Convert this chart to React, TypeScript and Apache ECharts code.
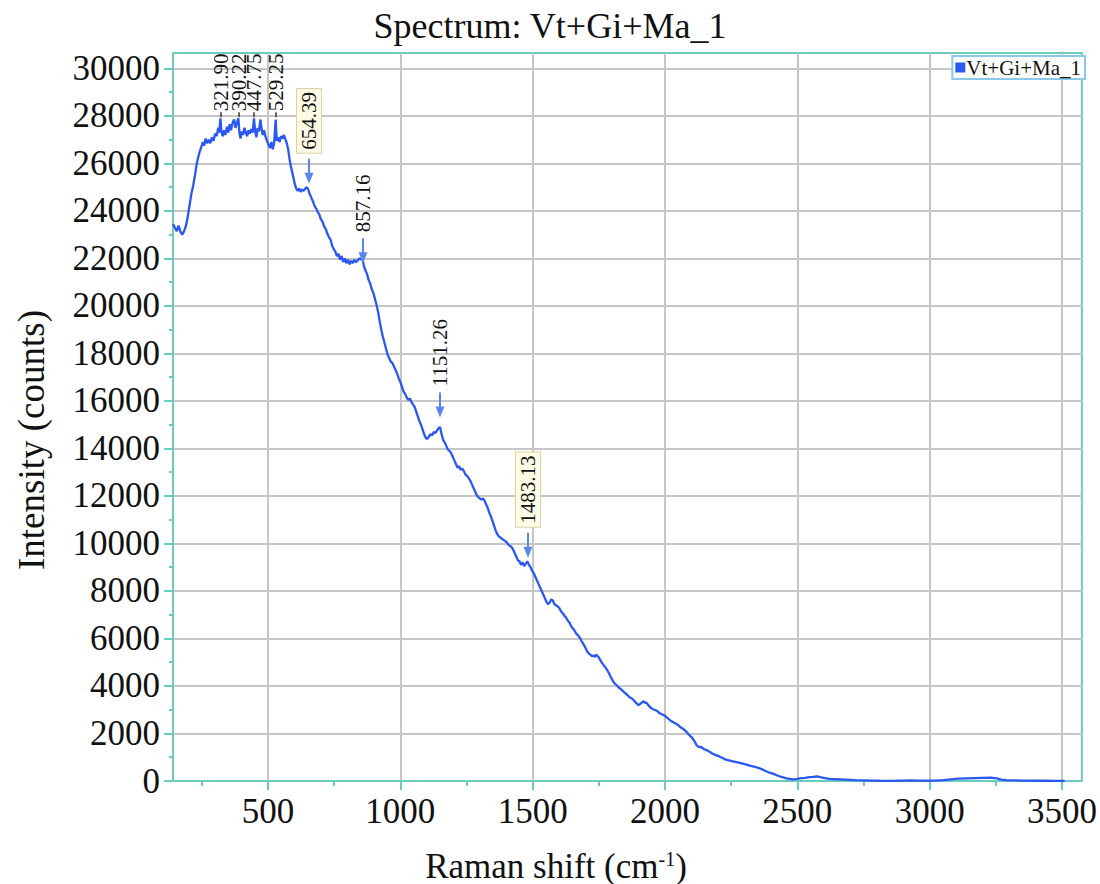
import React, { useEffect, useRef } from 'react';
import * as echarts from 'echarts';

const SERIF = '"Liberation Serif", "Times New Roman", serif';
const TEAL = '#6ccabf';
const BLUE = '#2a58f0';
const ARROW = '#5a86ee';
const GRIDC = '#c6c6c6';

const chartTitle = 'Spectrum: Vt+Gi+Ma_1';
const seriesName = 'Vt+Gi+Ma_1';

// [Raman shift (cm-1), intensity (counts)]
const spectrum: [number, number][] = [
  [141, 23450], [148, 23300], [155, 23150], [162, 23380], [170, 23100], [176, 23000], [183, 23150],
  [190, 23380], [196, 23700], [203, 24200], [210, 24700], [217, 25050], [224, 25500], [230, 25950],
  [236, 26250], [242, 26500], [248, 26700], [254, 26900], [259, 26750], [264, 27050], [270, 26850],
  [276, 27000], [282, 26850], [288, 27100], [294, 26950], [300, 27250], [306, 27150], [312, 27500],
  [316, 27300], [320, 27900], [324, 27350], [329, 27150], [334, 27400], [339, 27200], [345, 27550],
  [350, 27300], [355, 27650], [360, 27400], [366, 27700], [372, 27850], [377, 27500], [382, 27700],
  [388, 27900], [392, 27300], [396, 27050], [401, 27350], [406, 27200], [411, 27500], [416, 27300],
  [421, 27150], [426, 27400], [431, 27250], [437, 27450], [442, 27300], [447, 27900], [451, 27400],
  [456, 27100], [461, 27500], [466, 27350], [471, 27850], [475, 27500], [480, 27200], [485, 27400],
  [490, 27150], [496, 26950], [502, 26800], [508, 26650], [513, 26900], [518, 26600], [523, 26850],
  [529, 27850], [533, 26950], [538, 27100], [544, 26900], [549, 27150], [555, 27050], [560, 27200],
  [566, 27000], [571, 26850], [576, 26600], [581, 26200], [586, 25900], [591, 25650], [596, 25400],
  [601, 25150], [606, 24950], [612, 24850], [618, 24950], [623, 24800], [629, 24900], [635, 24850],
  [641, 24950], [647, 25000], [652, 24900], [658, 24700], [664, 24550], [670, 24400], [676, 24200],
  [682, 24100], [688, 23950], [694, 23850], [700, 23650], [706, 23550], [712, 23350], [718, 23250],
  [724, 23050], [730, 22900], [736, 22800], [742, 22550], [748, 22400], [754, 22300], [760, 22100],
  [766, 22200], [772, 21950], [778, 22100], [784, 21850], [790, 22000], [796, 21800], [802, 21950],
  [808, 21750], [814, 21900], [820, 21800], [826, 21950], [832, 21850], [838, 21900], [844, 22000],
  [850, 21950], [856, 22050], [862, 21700], [868, 21500], [874, 21350], [880, 21100], [886, 20950],
  [892, 20700], [898, 20550], [904, 20300], [910, 20050], [916, 19750], [922, 19350], [928, 19000],
  [934, 18700], [940, 18450], [946, 18200], [952, 17950], [958, 17800], [964, 17650], [970, 17600],
  [976, 17450], [982, 17300], [988, 17150], [994, 16950], [1000, 16800], [1006, 16600], [1012, 16400],
  [1018, 16300], [1024, 16150], [1030, 16050], [1036, 16100], [1042, 15950], [1048, 15850], [1054, 15750],
  [1060, 15550], [1066, 15350], [1072, 15150], [1078, 15000], [1084, 14800], [1090, 14600], [1096, 14450],
  [1102, 14400], [1108, 14500], [1114, 14600], [1120, 14550], [1126, 14700], [1132, 14650], [1138, 14750],
  [1144, 14850], [1150, 14900], [1156, 14600], [1162, 14350], [1168, 14250], [1174, 14100], [1180, 13950],
  [1186, 13900], [1192, 13800], [1198, 13650], [1204, 13500], [1210, 13350], [1216, 13200], [1222, 13250],
  [1228, 13100], [1234, 13150], [1240, 13050], [1246, 12900], [1252, 12850], [1258, 12750], [1264, 12650],
  [1270, 12500], [1276, 12350], [1282, 12200], [1288, 12050], [1294, 11950], [1300, 11900], [1306, 11850],
  [1312, 11900], [1318, 11800], [1324, 11650], [1330, 11500], [1336, 11300], [1342, 11150], [1348, 10950],
  [1354, 10750], [1360, 10550], [1366, 10400], [1372, 10300], [1378, 10250], [1384, 10200], [1390, 10150],
  [1396, 10100], [1402, 10050], [1408, 9950], [1414, 9900], [1420, 9850], [1426, 9750], [1432, 9600],
  [1438, 9450], [1444, 9300], [1450, 9250], [1456, 9100], [1462, 9200], [1468, 9050], [1474, 9150],
  [1480, 9250], [1486, 9100], [1492, 9000], [1498, 8850], [1504, 8750], [1510, 8600], [1516, 8450],
  [1522, 8300], [1528, 8150], [1534, 8000], [1540, 7850], [1546, 7700], [1552, 7550], [1558, 7450],
  [1564, 7500], [1570, 7650], [1576, 7600], [1582, 7450], [1588, 7400], [1594, 7350], [1600, 7300],
  [1605, 7180], [1610, 7100], [1615, 7050], [1620, 6950], [1625, 6900], [1630, 6800], [1635, 6720],
  [1640, 6650], [1645, 6520], [1650, 6450], [1655, 6380], [1660, 6300], [1665, 6200], [1670, 6150],
  [1675, 6080], [1680, 6000], [1685, 5880], [1690, 5800], [1695, 5700], [1700, 5600], [1705, 5480],
  [1710, 5400], [1715, 5340], [1720, 5300], [1725, 5250], [1730, 5280], [1735, 5230], [1740, 5320],
  [1745, 5260], [1750, 5200], [1755, 5100], [1760, 5000], [1765, 4930], [1770, 4850], [1775, 4780],
  [1780, 4700], [1785, 4600], [1790, 4500], [1795, 4380], [1800, 4280], [1805, 4180], [1810, 4100],
  [1815, 4060], [1820, 4000], [1825, 3930], [1830, 3900], [1835, 3850], [1840, 3800], [1845, 3740],
  [1850, 3700], [1855, 3640], [1860, 3600], [1865, 3540], [1870, 3500], [1875, 3470], [1880, 3420],
  [1885, 3360], [1890, 3300], [1895, 3240], [1900, 3200], [1905, 3230], [1910, 3280], [1915, 3330],
  [1920, 3350], [1925, 3290], [1930, 3300], [1935, 3220], [1940, 3150], [1945, 3100], [1950, 3050],
  [1955, 3020], [1960, 3000], [1965, 2980], [1970, 2950], [1975, 2900], [1980, 2850], [1985, 2830],
  [1990, 2800], [1995, 2770], [2000, 2750], [2005, 2690], [2010, 2650], [2015, 2600], [2020, 2550],
  [2025, 2510], [2030, 2480], [2035, 2450], [2040, 2420], [2045, 2390], [2050, 2350], [2055, 2300],
  [2060, 2250], [2065, 2220], [2070, 2180], [2075, 2130], [2080, 2080], [2085, 2020], [2090, 1950],
  [2095, 1900], [2100, 1850], [2105, 1780], [2110, 1700], [2115, 1600], [2120, 1500], [2125, 1460],
  [2130, 1420], [2135, 1440], [2140, 1400], [2145, 1360], [2150, 1330], [2155, 1310], [2160, 1280],
  [2170, 1220], [2180, 1150], [2190, 1100], [2200, 1060], [2215, 980], [2230, 900], [2245, 860],
  [2260, 820], [2275, 780], [2290, 740], [2305, 700], [2320, 650], [2335, 610], [2350, 560],
  [2365, 500], [2380, 420], [2395, 350], [2410, 300], [2425, 230], [2440, 170], [2455, 120],
  [2470, 90], [2485, 70], [2500, 90], [2515, 120], [2530, 130], [2545, 160], [2560, 170],
  [2575, 190], [2590, 150], [2605, 120], [2620, 90], [2640, 80], [2660, 70], [2680, 60],
  [2700, 50], [2720, 40], [2750, 30], [2780, 20], [2810, 10], [2840, 5], [2870, 10],
  [2900, 20], [2930, 30], [2960, 20], [2990, 10], [3020, 15], [3050, 40], [3080, 70],
  [3110, 100], [3140, 110], [3170, 120], [3200, 130], [3230, 140], [3255, 110], [3270, 60],
  [3290, 40], [3320, 30], [3350, 20], [3380, 15], [3410, 10], [3440, 10], [3470, 5],
  [3500, 0], [3510, 0],
];

// annotated peaks and the intensity where their marker points
const peakShift = [321.90, 390.22, 447.75, 529.25, 654.39, 857.16, 1151.26, 1483.13];
const peakTip = [27900, 27900, 27900, 27900, 25150, 21800, 15300, 9400];

const xTicks = [500, 1000, 1500, 2000, 2500, 3000, 3500];
const xMinorTicks = [250, 750, 1250, 1750, 2250, 2750, 3250];
const yTicks = [0, 2000, 4000, 6000, 8000, 10000, 12000, 14000, 16000, 18000, 20000, 22000, 24000, 26000, 28000, 30000];
const yMinorTicks = [1000, 3000, 5000, 7000, 9000, 11000, 13000, 15000, 17000, 19000, 21000, 23000, 25000, 27000, 29000];

const X_MIN = 141;
const X_MAX = 3575;
const Y_MIN = 0;
const Y_MAX = 30650;

const ARROWED = new Set(['654.39', '857.16', '1151.26', '1483.13']);
const BOXED = new Set(['654.39', '1483.13']);

export default function App() {
  const ref = useRef<HTMLDivElement>(null);
  useEffect(() => {
    if (!ref.current) return;
    const chart = echarts.init(ref.current, null, { renderer: 'svg' });
    const tickLabel = {
      fontFamily: SERIF,
      fontSize: 35,
      color: '#111',
      formatter: (v: number) => String(v),
    };
    const option: any = {
      animation: false,
      backgroundColor: '#ffffff',
      title: {
        text: chartTitle,
        left: 'center',
        top: 3,
        textStyle: { fontFamily: SERIF, fontSize: 36, fontWeight: 'normal', color: '#111' },
      },
      legend: {
        data: [seriesName],
        right: 15,
        top: 56,
        icon: 'rect',
        itemWidth: 10,
        itemHeight: 10,
        padding: [1, 4, 1, 3],
        borderColor: '#8cc8ea',
        borderWidth: 2,
        backgroundColor: '#ffffff',
        textStyle: { fontFamily: SERIF, fontSize: 21, color: '#111', padding: [0, 0, 0, -4] },
      },
      grid: {
        left: 173,
        right: 8,
        top: 53,
        bottom: 103,
        show: true,
        borderColor: TEAL,
        borderWidth: 2,
        backgroundColor: '#ffffff',
      },
      xAxis: [
        {
          type: 'value',
          position: 'bottom',
          min: X_MIN,
          max: X_MAX,
          axisLine: { show: true, lineStyle: { color: TEAL, width: 2 } },
          axisTick: { show: true, customValues: xTicks, length: 9, lineStyle: { color: TEAL, width: 2 } },
          axisLabel: { customValues: xTicks, margin: 13, ...tickLabel },
          splitLine: { show: true, lineStyle: { color: GRIDC, width: 2 } },
        },
        {
          type: 'value',
          position: 'bottom',
          min: X_MIN,
          max: X_MAX,
          axisLine: { show: false },
          axisTick: { show: true, customValues: xMinorTicks, length: 5, lineStyle: { color: TEAL, width: 2 } },
          axisLabel: { show: false },
          splitLine: { show: false },
        },
      ],
      yAxis: [
        {
          type: 'value',
          position: 'left',
          min: Y_MIN,
          max: Y_MAX,
          axisLine: { show: true, lineStyle: { color: TEAL, width: 2 } },
          axisTick: { show: true, customValues: yTicks, length: 9, lineStyle: { color: TEAL, width: 2 } },
          axisLabel: { customValues: yTicks, margin: 13, ...tickLabel },
          splitLine: { show: true, lineStyle: { color: GRIDC, width: 2 } },
        },
        {
          type: 'value',
          position: 'left',
          min: Y_MIN,
          max: Y_MAX,
          axisLine: { show: false },
          axisTick: { show: true, customValues: yMinorTicks, length: 4, lineStyle: { color: TEAL, width: 2 } },
          axisLabel: { show: false },
          splitLine: { show: false },
        },
      ],
      graphic: [
        {
          type: 'text',
          x: 556,
          y: 866,
          style: {
            text: 'Raman shift (cm{sup|-1})',
            fontFamily: SERIF,
            fontSize: 35,
            fill: '#111',
            align: 'center',
            verticalAlign: 'middle',
            rich: {
              sup: { fontFamily: SERIF, fontSize: 20, fill: '#111', verticalAlign: 'top', lineHeight: 35 },
            },
          },
        },
        {
          type: 'text',
          x: 31,
          y: 440,
          rotation: Math.PI / 2,
          style: {
            text: 'Intensity (counts)',
            fontFamily: SERIF,
            fontSize: 37,
            fill: '#111',
            align: 'center',
            verticalAlign: 'middle',
          },
        },
      ],
      series: [
        {
          name: seriesName,
          type: 'line',
          xAxisIndex: 0,
          yAxisIndex: 0,
          data: spectrum,
          showSymbol: false,
          symbol: 'none',
          lineStyle: { color: BLUE, width: 2.3 },
          itemStyle: { color: BLUE },
          z: 3,
        },
        {
          name: 'peaks',
          type: 'custom',
          xAxisIndex: 0,
          yAxisIndex: 0,
          clip: false,
          silent: true,
          z: 5,
          data: peakShift.map((s, i) => [s, peakTip[i], i]),
          renderItem: (params: any, api: any) => {
            const i = api.value(2);
            const label = peakShift[i].toFixed(2);
            const p = api.coord([api.value(0), api.value(1)]);
            const x = Math.round(p[0]);
            const y = p[1];
            const arrowed = ARROWED.has(label);
            const boxed = BOXED.has(label);
            const children: any[] = [];
            let textY;
            if (arrowed) {
              children.push({
                type: 'line',
                shape: { x1: x, y1: y - 25, x2: x, y2: y - 8 },
                style: { stroke: ARROW, lineWidth: 2 },
              });
              children.push({
                type: 'polygon',
                shape: { points: [[x - 4.5, y - 11], [x + 4.5, y - 11], [x, y]] },
                style: { fill: ARROW },
              });
              textY = y - 31;
            } else {
              children.push({
                type: 'line',
                shape: { x1: x, y1: y - 1, x2: x, y2: y - 6 },
                style: { stroke: '#333', lineWidth: 1.5 },
              });
              textY = y - 7;
            }
            children.push({
              type: 'text',
              x: x,
              y: textY,
              rotation: Math.PI / 2,
              style: {
                text: label,
                font: '21px "Liberation Serif", "Times New Roman", serif',
                fontFamily: SERIF,
                fontSize: 21,
                fill: '#111',
                align: 'left',
                verticalAlign: 'middle',
                backgroundColor: boxed ? '#fdfbe6' : undefined,
                borderColor: boxed ? '#ddd3a2' : undefined,
                borderWidth: boxed ? 1 : 0,
                padding: boxed ? [2, 3, 1, 3] : 0,
              },
            });
            return { type: 'group', children };
          },
        },
      ],
    };
    chart.setOption(option);
    return () => chart.dispose();
  }, []);
  return (
    <div
      ref={ref}
      style={{ position: 'fixed', left: 0, top: 0, width: 1100, height: 884, background: '#fff' }}
    />
  );
}
